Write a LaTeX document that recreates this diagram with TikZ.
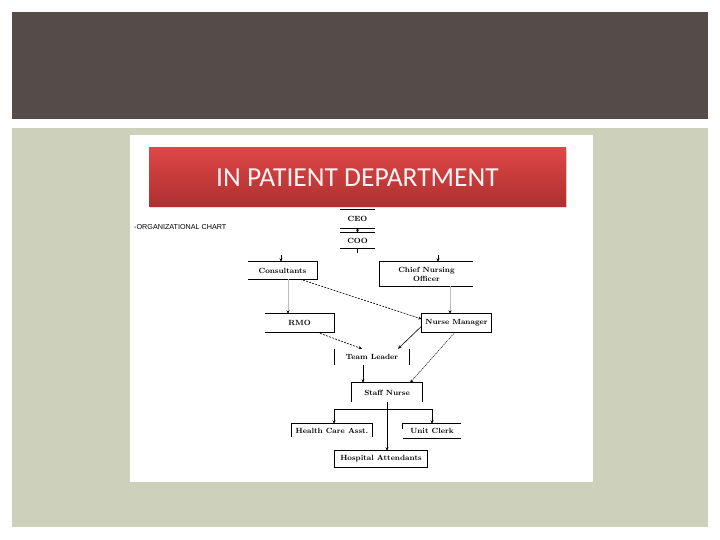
\documentclass[tikz,border=0pt]{standalone}
\usepackage{fontspec}
\setsansfont{Liberation Sans}
\newfontfamily\titlefont{Carlito}
\usepackage{xcolor}
\definecolor{slidedark}{HTML}{554B49}
\definecolor{slidegreen}{HTML}{CDD1BC}
\definecolor{titletop}{HTML}{DE4747}
\definecolor{titlebot}{HTML}{AF2F2F}
\definecolor{linkgray}{HTML}{BDBDBD}
\usepackage{tikz}
\usetikzlibrary{arrows.meta,positioning,calc,shadows}

\begin{document}
\begin{tikzpicture}[x=1pt,y=-1pt,
  post/.style={inner sep=0pt,font=\fontsize{7.5}{9}\selectfont\bfseries,align=center},
  edge/.style={line width=0.8pt},
  link/.style={line width=0.6pt,-{Stealth[length=3.5pt,width=3pt]}},
  graylink/.style={link,draw=linkgray,-{Stealth[length=3.5pt,width=3pt,black]}},
  dashlink/.style={link,dash pattern=on 2pt off 1.2pt},
  dotlink/.style={link,line width=0.5pt,dash pattern=on 1.2pt off 0.8pt}]
\useasboundingbox (0,0) rectangle (720,540);
\fill[white] (0,0) rectangle (720,540);
\fill[slidedark] (12,12) rectangle (708,119);
\fill[slidegreen] (12,128) rectangle (708,527);
\fill[white] (130,135) rectangle (593,482);

% title bar
\node[minimum width=417pt,minimum height=59pt,top color=titletop,bottom color=titlebot,
  drop shadow={opacity=0.25,shadow xshift=1pt,shadow yshift=-1.5pt},
  text=white!95!red,font=\titlefont\fontsize{27.5}{30}\selectfont] (title) at (357.5,177.5) {IN PATIENT DEPARTMENT};
\node[anchor=west,inner sep=0pt,font=\sffamily\fontsize{7.2}{8}\selectfont] (orgchart) at (134,227) {-ORGANIZATIONAL CHART};

% posts
\node[post,minimum width=35pt,minimum height=18pt] (ceo) at (357.5,219) {CEO};
\node[post,minimum width=35pt,minimum height=15pt] (coo) at (357.5,240.5) {COO};
\node[post,minimum width=69pt,minimum height=17pt] (cons) at (282.5,270.5) {Consultants};
\node[post,minimum width=93pt,minimum height=24pt] (cno) at (426.5,274) {Chief Nursing\\Officer};
\node[post,minimum width=69pt,minimum height=18pt] (rmo) at (299.5,323) {RMO};
\node[post,minimum width=69pt,minimum height=18pt] (nm) at (456.5,323) {Nurse Manager};
\node[post,minimum width=74pt,minimum height=16pt] (tl) at (372,357) {Team Leader};
\node[post,minimum width=70pt,minimum height=19pt] (sn) at (387,392.5) {Staff Nurse};
\node[post,minimum width=80pt,minimum height=13pt] (hca) at (332,430.5) {Health Care Asst.};
\node[post,minimum width=58pt,minimum height=14pt] (uc) at (432,431) {Unit Clerk};
\node[post,minimum width=92pt,minimum height=16pt] (ha) at (381,459) {Hospital Attendants};

% box edges
\draw[edge] (ceo.north west) -- (ceo.north east) (ceo.south west) -- (ceo.south east);
\draw[edge] (coo.north west) -- (coo.north east) (coo.south west) -- (coo.south east);
\draw[edge] (cons.north west) -- (cons.north east) -- (cons.south east) -- (cons.south west);
\draw[edge] (cno.north east) -- (cno.north west) -- (cno.south west) -- (cno.south east);
\draw[edge] (rmo.north west) -- (rmo.north east) -- (rmo.south east) -- (rmo.south west);
\draw[edge] (nm.north west) rectangle (nm.south east);
\draw[edge] (tl.north west) -- (tl.south west) (tl.north east) -- (tl.south east);
\draw[edge] (sn.south west) -- (sn.north west) -- (sn.north east) -- (sn.south east);
\draw[edge] (hca.south west) -- (hca.north west) -- (hca.north east) -- (hca.south east);
\draw[edge] (uc.north east) -- (uc.north west) -- ++(0,5) (uc.south west) -- (uc.south east);
\draw[edge] (ha.north west) rectangle (ha.south east);

% free ends
\coordinate[above=7pt of cons.north,xshift=-1.5pt] (consin);
\coordinate[above=7pt of cno.north,xshift=11.5pt] (cnoin);
\coordinate[below=5pt of coo.south] (cooout);

% connectors
\draw[link] (ceo.south) -- (coo.north);
\draw[edge,line width=0.6pt] (coo.south) -- (cooout);
\draw[link] (consin) -- (consin |- cons.north);
\draw[link] (cnoin) -- (cnoin |- cno.north);
\draw[graylink] ([xshift=5.5pt]cons.south) -- ([xshift=5.5pt]cons.south |- rmo.north);
\draw[graylink] ([xshift=-6.5pt]nm.north |- cno.south) -- ([xshift=-6.5pt]nm.north);
\draw[dashlink] ([xshift=17.5pt]cons.south) -- ([yshift=4pt]nm.west);
\draw[dashlink] ([xshift=17.5pt]rmo.south) -- ([xshift=-10pt]tl.north);
\draw[link] ([yshift=-3pt]nm.west) -- ([xshift=26pt]tl.north);
\draw[link] ([xshift=-9pt]tl.south) -- ([xshift=-9pt]tl.south |- sn.north);
\draw[dotlink] ([xshift=-1.5pt]nm.south) -- ([xshift=23pt]sn.north);
\draw[link] (sn.south) -- (sn.south |- ha.north);
\draw[link] (sn.south) ++(0,7.5) -| ([xshift=2pt]hca.north);
\draw[link] (sn.south) ++(0,7.5) -| (uc.north);
\end{tikzpicture}
\end{document}
